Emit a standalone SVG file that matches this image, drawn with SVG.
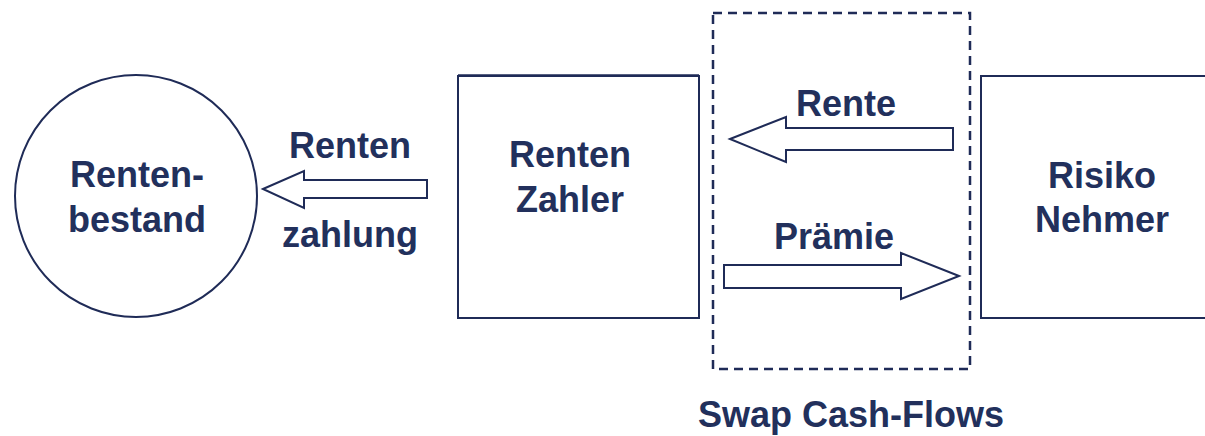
<svg xmlns="http://www.w3.org/2000/svg" width="1205" height="436" viewBox="0 0 1205 436">
<style>
.shape{fill:#ffffff;stroke:#1f2b57;stroke-width:2}
.arrow{fill:#ffffff;stroke:#1f2b57;stroke-width:2;stroke-linejoin:miter}
.lbl{font-family:"Liberation Sans",Arial,sans-serif;font-weight:bold;font-size:36px;fill:#22305c;text-anchor:middle}
.dash{fill:none;stroke:#1f2b57;stroke-width:2.5;stroke-dasharray:9,6}
</style>
<rect width="1205" height="436" fill="#ffffff"/>
<g id="swap-group">
<rect class="dash" x="713" y="13" width="257" height="356"/>
<text class="lbl" x="851" y="427">Swap Cash-Flows</text>
</g>
<g id="rentenbestand">
<circle class="shape" cx="136" cy="196" r="121"/>
<text class="lbl" x="137" y="187">Renten-</text>
<text class="lbl" x="137" y="232">bestand</text>
</g>
<g id="renten-zahler">
<rect class="shape" x="458" y="76" width="241" height="242"/>
<line x1="458" y1="75" x2="699" y2="75" stroke="#1f2b57" stroke-width="1.5"/>
<text class="lbl" x="570" y="167">Renten</text>
<text class="lbl" x="570" y="212">Zahler</text>
</g>
<g id="risiko-nehmer">
<rect class="shape" x="981" y="76" width="240" height="242"/>
<text class="lbl" x="1102" y="188">Risiko</text>
<text class="lbl" x="1102" y="232">Nehmer</text>
</g>
<g id="connectors">
<polygon class="arrow" points="263,189 304,171 304,180 427,180 427,198 304,198 304,208"/>
<text class="lbl" x="350" y="158">Renten</text>
<text class="lbl" x="350" y="247">zahlung</text>
<polygon class="arrow" points="730,139 786,117 786,128 953,128 953,150 786,150 786,162"/>
<text class="lbl" x="846" y="116">Rente</text>
<polygon class="arrow" points="959,276 901,253 901,265 724,265 724,288 901,288 901,299"/>
<text class="lbl" x="834" y="249">Prämie</text>
</g>
</svg>
